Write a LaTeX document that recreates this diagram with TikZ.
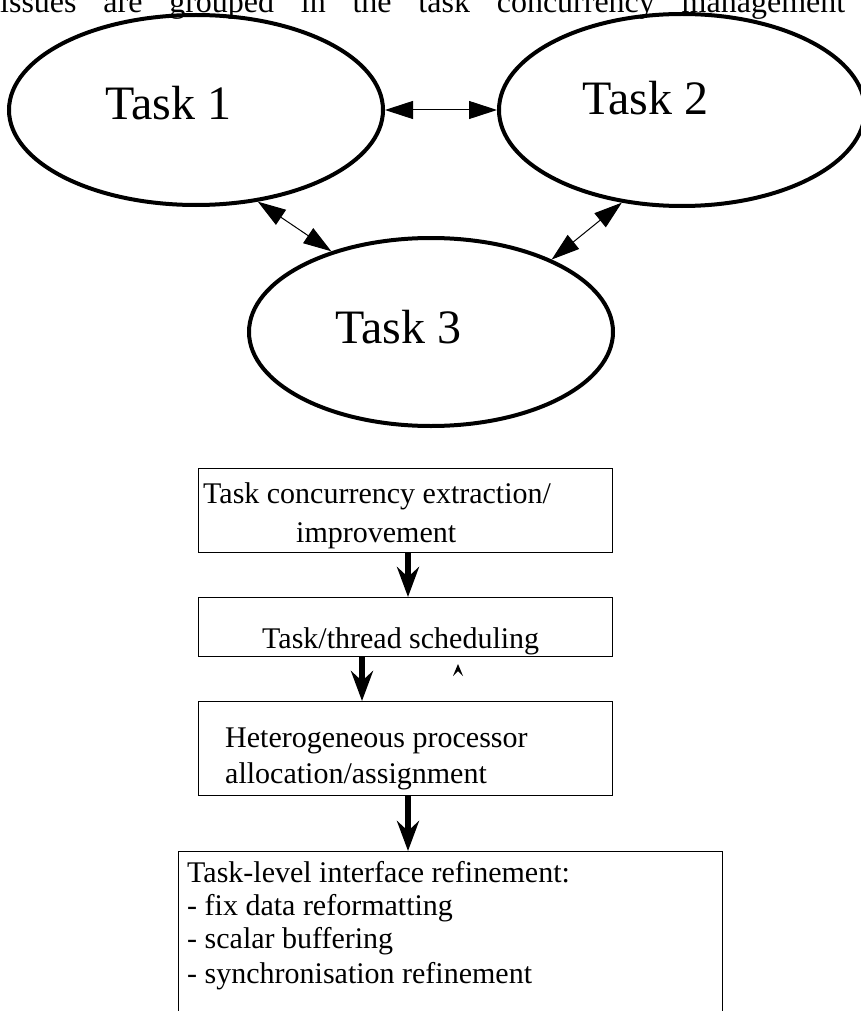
\documentclass[tikz,border=0pt]{standalone}
\usepackage{fontspec}
\setmainfont{Liberation Serif}
\usetikzlibrary{shapes.geometric,arrows.meta}
\begin{document}
\begin{tikzpicture}[x=1pt,y=-1pt,
  ell/.style={draw,ellipse,line width=4pt,inner sep=0pt},
  box/.style={draw,rectangle,line width=1.2pt,inner sep=0pt,anchor=north west},
  tlabel/.style={font=\fontsize{48}{52}\selectfont,anchor=base west,inner sep=0pt},
  btext/.style={font=\fontsize{30}{34}\selectfont,anchor=base west,inner sep=0pt},
  dbl/.style={line width=1pt,{Triangle[length=28pt,width=18pt]}-{Triangle[length=28pt,width=18pt]}},
  flow/.style={line width=5.5pt,-{Stealth[length=30pt,width=22pt,inset=10pt]}}]
\clip (0,0) rectangle (861,1011);
\fill[white] (0,0) rectangle (861,1011);
% header line (cut off at top)
\node[btext,font=\fontsize{32}{36}\selectfont] (hdr) at (0,13) {\hbox to 845pt{issues\hfill are\hfill grouped\hfill in\hfill the\hfill task\hfill concurrency\hfill management}};
% ellipses
\node[ell,minimum width=374pt,minimum height=190pt] (e1) at (196,110) {};
\node[ell,minimum width=366pt,minimum height=192pt] (e2) at (682,110) {};
\node[ell,minimum width=364pt,minimum height=188pt] (e3) at (431,332) {};
\node[tlabel] (t1) at (105,120) {Task 1};
\node[tlabel] (t2) at (582,115) {Task 2};
\node[tlabel] (t3) at (335,343) {Task 3};
\draw[dbl] (e1.east) -- (e2.west);
\draw[dbl] (e1.-56) -- (e3.141);
\draw[dbl] (e2.-123) -- (e3.31);
% boxes
\node[box,minimum width=414pt,minimum height=84pt] (b1) at (198,468) {};
\node[box,minimum width=414pt,minimum height=59pt] (b2) at (198,597) {};
\node[box,minimum width=414pt,minimum height=94pt] (b3) at (198,701) {};
\node[box,minimum width=544pt,minimum height=250pt] (b4) at (178,851) {};
\node[btext] (l1a) at (203,503) {Task concurrency extraction/};
\node[btext] (l1b) at (296,542) {improvement};
\node[btext] (l2) at (262,648) {Task/thread scheduling};
\node[btext] (l3a) at (225,747) {Heterogeneous processor};
\node[btext] (l3b) at (225,783) {allocation/assignment};
\node[btext] (l4a) at (187,882) {Task-level interface refinement:};
\node[btext] (l4b) at (187,915) {- fix data reformatting};
\node[btext] (l4c) at (187,948) {- scalar buffering};
\node[btext] (l4d) at (187,983) {- synchronisation refinement};
% flow arrows
\coordinate (ax1) at (408,0);
\coordinate (ax2) at (362,0);
\draw[flow] (ax1 |- b1.south) -- (ax1 |- b2.north);
\draw[flow] (ax2 |- b2.south) -- (ax2 |- b3.north);
\draw[flow] (ax1 |- b3.south) -- (ax1 |- b4.north);
% small stray arrowhead
\coordinate (stub) at (458,664);
\fill (stub) -- ++(5,12) -- ++(-5,-5) -- ++(-5,5) -- cycle;
\end{tikzpicture}
\end{document}
